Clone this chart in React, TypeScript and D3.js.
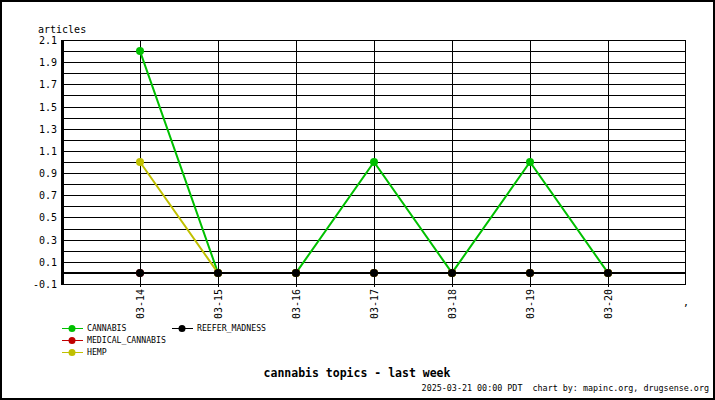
import React from "react";
import * as d3 from "d3";

const dates = ["03-14", "03-15", "03-16", "03-17", "03-18", "03-19", "03-20"];
const cannabis = [2, 0, 0, 1, 0, 1, 0];
const medicalCannabis = [0, 0, 0, 0, 0, 0, 0];
const hemp = [1, 0, 0, 0, 0, 0, 0];
const reeferMadness = [0, 0, 0, 0, 0, 0, 0];
const yTickLabels = [2.1, 1.9, 1.7, 1.5, 1.3, 1.1, 0.9, 0.7, 0.5, 0.3, 0.1, -0.1];

const seriesList = [
  { name: "CANNABIS", values: cannabis, color: "#00c000" },
  { name: "MEDICAL_CANNABIS", values: medicalCannabis, color: "#c00000" },
  { name: "HEMP", values: hemp, color: "#c0c000" },
  { name: "REEFER_MADNESS", values: reeferMadness, color: "#000000" },
];

const W = 715;
const H = 400;
const mono = "'DejaVu Sans Mono', 'Liberation Mono', monospace";

export default function App() {
  const left = 62;
  const right = 686;
  const top = 40;
  const bottom = 284;
  const x = d3.scaleLinear().domain([0, dates.length + 1]).range([left, right]);
  const y = d3.scaleLinear().domain([-0.1, 2.1]).range([bottom, top]);
  const gridValues = d3.range(-1, 22).map((i) => Math.round(i) / 10);
  const line = d3
    .line<number>()
    .x((_, i) => x(i + 1))
    .y((v) => y(v));

  const legendPos = [
    { x: 62, y: 328 },
    { x: 62, y: 340 },
    { x: 62, y: 352 },
    { x: 172, y: 328 },
  ];

  return (
    <svg
      width={W}
      height={H}
      style={{ position: "absolute", left: 0, top: 0, display: "block" }}
      shapeRendering="crispEdges"
    >
      <rect x={0} y={0} width={W} height={H} fill="#fff" />
      <rect x={1} y={1} width={W - 2} height={H - 2} fill="none" stroke="#000" strokeWidth={2} />

      {/* horizontal grid */}
      {gridValues.map((v) => (
        <line key={"h" + v} x1={left} x2={right} y1={Math.round(y(v)) + 0.5} y2={Math.round(y(v)) + 0.5} stroke="#000" strokeWidth={1} />
      ))}
      {/* vertical grid */}
      {dates.map((d, i) => (
        <line key={"v" + d} x1={Math.round(x(i + 1)) + 0.5} x2={Math.round(x(i + 1)) + 0.5} y1={top} y2={bottom + 3} stroke="#000" strokeWidth={1} />
      ))}
      {/* frame */}
      <rect x={left + 0.5} y={top + 0.5} width={right - left - 1} height={bottom - top} fill="none" stroke="#000" strokeWidth={1} />
      <line x1={left} x2={left} y1={top} y2={bottom + 1} stroke="#000" strokeWidth={3} />
      <line x1={left} x2={right} y1={y(0)} y2={y(0)} stroke="#000" strokeWidth={2.5} />

      {/* y labels */}
      <text x={38} y={33} fontFamily={mono} fontSize={10} fill="#000">articles</text>
      {yTickLabels.map((v) => (
        <text key={"yl" + v} x={57} y={y(v) + 4} textAnchor="end" fontFamily={mono} fontSize={10} fill="#000">
          {v.toFixed(1)}
        </text>
      ))}

      {/* x labels */}
      {dates.map((d, i) => (
        <text
          key={"xl" + d}
          transform={`translate(${x(i + 1) + 4},${bottom + 5}) rotate(-90)`}
          textAnchor="end"
          fontFamily={mono}
          fontSize={10}
          fill="#000"
        >
          {d}
        </text>
      ))}
      <text x={x(dates.length + 1) - 3} y={bottom + 22} fontFamily={mono} fontSize={10} fill="#000">,</text>

      {/* series */}
      <g shapeRendering="auto">
        {seriesList.map((s) => (
          <g key={s.name}>
            <path d={line(s.values) || ""} fill="none" stroke={s.color} strokeWidth={2} />
            {s.values.map((v, i) => (
              <circle key={i} cx={x(i + 1)} cy={y(v)} r={4} fill={s.color} />
            ))}
          </g>
        ))}
      </g>

      {/* legend */}
      {seriesList.map((s, i) => (
        <g key={"lg" + s.name}>
          <line x1={legendPos[i].x} x2={legendPos[i].x + 21} y1={legendPos[i].y + 0.5} y2={legendPos[i].y + 0.5} stroke={s.color} strokeWidth={1} />
          <circle cx={legendPos[i].x + 10} cy={legendPos[i].y + 0.5} r={3.5} fill={s.color} shapeRendering="auto" />
          <text x={legendPos[i].x + 25} y={legendPos[i].y + 3} fontFamily={mono} fontSize={8.2} fill="#000">
            {s.name}
          </text>
        </g>
      ))}

      {/* titles */}
      <text x={357} y={377} textAnchor="middle" fontFamily={mono} fontWeight="bold" fontSize={11.5} fill="#000">
        cannabis topics - last week
      </text>
      <text x={709} y={391} textAnchor="end" fontFamily={mono} fontSize={8.4} fill="#000" style={{ whiteSpace: "pre" }}>
        {"2025-03-21 00:00 PDT  chart by: mapinc.org, drugsense.org"}
      </text>
    </svg>
  );
}
